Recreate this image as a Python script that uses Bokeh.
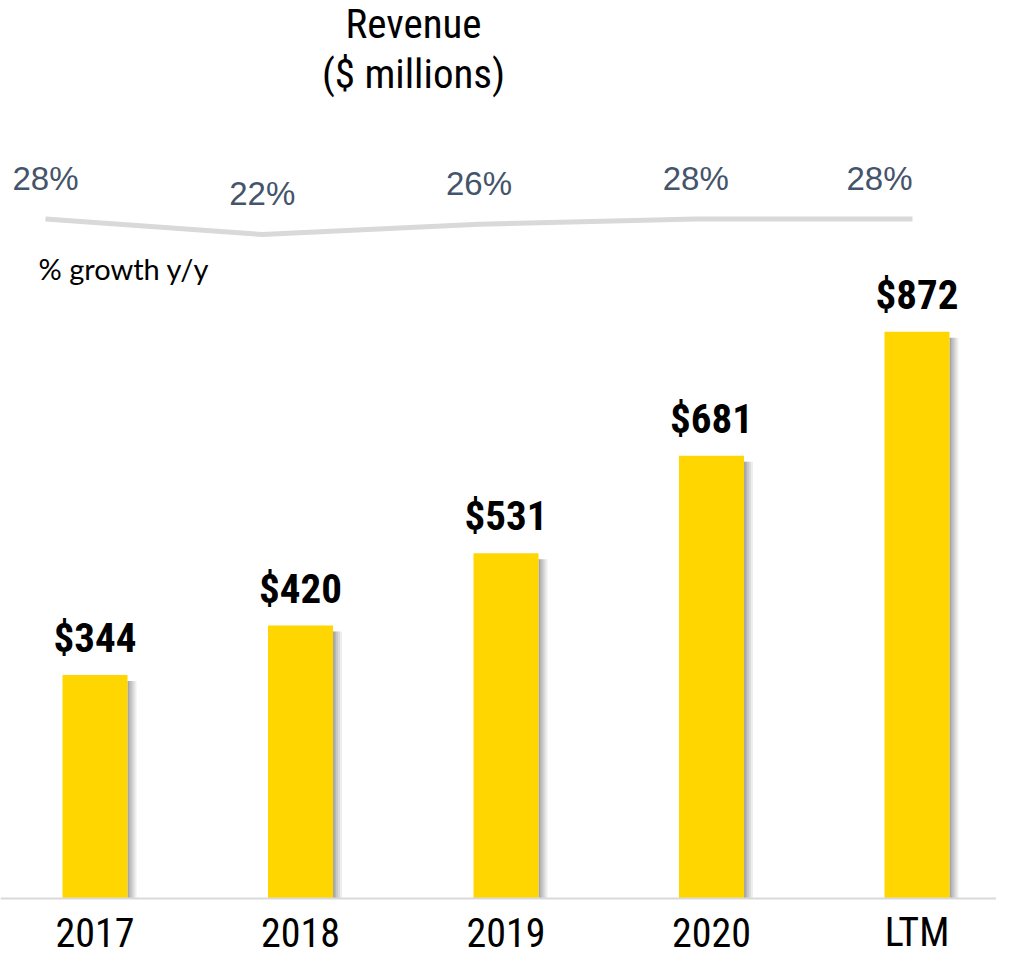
from bokeh.plotting import figure
from bokeh.models import Range1d, ColumnDataSource, Span
from bokeh.core.properties import value
from bokeh.embed import file_html
from bokeh.resources import INLINE

# ---- data ----
categories = ["2017", "2018", "2019", "2020", "LTM"]
revenue = [344, 420, 531, 681, 872]
revenue_labels = ["$344", "$420", "$531", "$681", "$872"]
growth = [28, 22, 26, 28, 28]
growth_labels = ["28%", "22%", "26%", "28%", "28%"]
title_lines = ["Revenue", "($ millions)"]
growth_caption = "% growth y/y"

# ---- style / layout ----
W, H = 996, 958
NARROW = "Liberation Sans Narrow, Roboto Condensed, Arial Narrow, Roboto, sans-serif"
BAR = "#FFD600"
SLATE = "#44546A"
LINEGREY = "#D9D9D9"

BASE = 898               # pixel row of the zero line
bar_px = 205.5           # pixels per category
bar_w = 65 / bar_px
x0 = -94.5 / bar_px
yscale = 0.650           # px per $m
y_top = BASE / yscale
y_bot = -(H - BASE) / yscale

g_px = 216.75
gx0 = -45 / g_px
g_scale = 2.583
g_row28 = 218.5
g_top = 28 + g_row28 / g_scale
g_bot = 28 - (H - g_row28) / g_scale


def row(px):
    """pixel row -> $m data coordinate"""
    return (BASE - px) / yscale


def col(px):
    return x0 + px / bar_px


p = figure(width=W, height=H, output_backend="svg", toolbar_location=None,
           x_range=Range1d(x0, x0 + W / bar_px), y_range=Range1d(y_bot, y_top),
           x_axis_location=None, y_axis_location=None, min_border=0,
           outline_line_color=None, background_fill_color="white")
p.grid.visible = False
p.extra_x_ranges = {"g": Range1d(gx0, gx0 + W / g_px)}
p.extra_y_ranges = {"g": Range1d(g_bot, g_top)}

idx = list(range(len(categories)))
src = ColumnDataSource(dict(x=idx, top=revenue, lab=revenue_labels, cat=categories))

# soft shadow to the right of each bar
for k, a in [(9, 0.10), (7, 0.12), (5, 0.14), (3, 0.16), (1.5, 0.16)]:
    p.quad(left=[i + bar_w / 2 for i in idx], right=[i + bar_w / 2 + k / bar_px for i in idx],
           top=[v - 6 / yscale for v in revenue], bottom=[0] * len(idx),
           fill_color="#555555", fill_alpha=a, line_color=None)

p.vbar(x="x", top="top", bottom=0, width=bar_w, source=src, fill_color=BAR, line_color=None)

# baseline axis line
p.add_layout(Span(location=0, dimension="width", line_color=LINEGREY, line_width=2))

# value labels
p.text(x="x", y="top", text="lab", source=src, y_offset=-37,
       text_align="center", text_baseline="alphabetic",
       text_font=value(NARROW), text_font_style="bold", text_font_size="41px", text_color="black")

# category labels
p.text(x="x", y=value(row(932)), text="cat", source=src,
       text_align="center", text_baseline="alphabetic",
       text_font=value(NARROW), text_font_size="40px", text_color="black")

# growth line
gsrc = ColumnDataSource(dict(x=idx, g=growth, lab=growth_labels,
                             align=["center"] * (len(idx) - 1) + ["right"]))
p.line(x="x", y="g", source=gsrc, x_range_name="g", y_range_name="g",
       line_color=LINEGREY, line_width=5)
p.text(x="x", y="g", text="lab", source=gsrc, x_range_name="g", y_range_name="g",
       y_offset=-41, text_align="align", text_baseline="alphabetic",
       text_font=value("Liberation Sans"), text_font_size="33px", text_color=SLATE)

# caption
p.text(x=[col(38)], y=[row(268)], text=[growth_caption],
       text_align="left", text_baseline="alphabetic",
       text_font=value("Lato"), text_font_size="29px", text_color="black")

# title
p.text(x=[col(413), col(413)], y=[row(23), row(73)], text=title_lines,
       text_align="center", text_baseline="alphabetic",
       text_font=value(NARROW), text_font_size="41px", text_color="black")

open("out.html", "w").write(file_html(p, INLINE))
